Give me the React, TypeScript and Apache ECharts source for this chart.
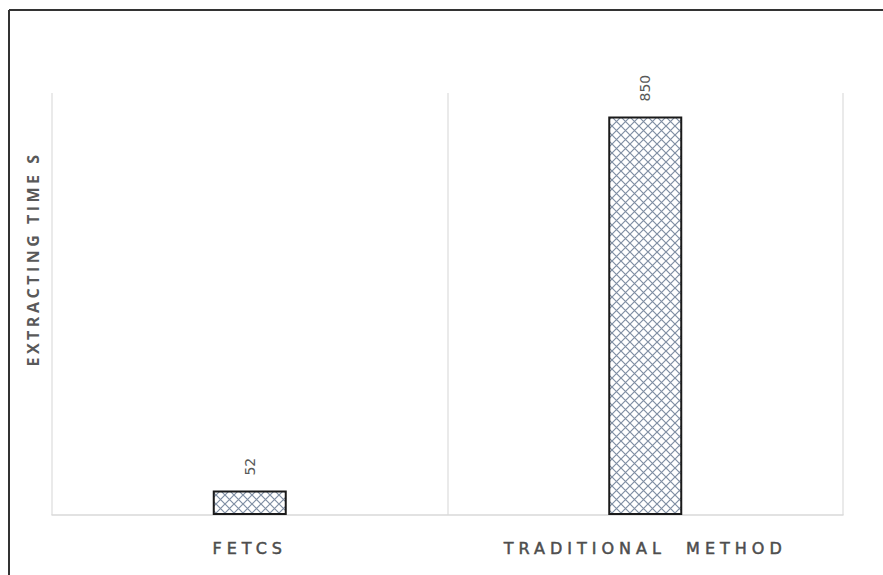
import React, { useEffect, useRef } from "react";
import * as echarts from "echarts";

const categories = ["FETCS", "TRADITIONAL  METHOD"];
const values = [52, 850];
const yAxisName = "EXTRACTING TIME S";

function makePattern(): string {
  const c = document.createElement("canvas");
  const s = 9;
  c.width = s;
  c.height = s;
  const ctx = c.getContext("2d")!;
  ctx.fillStyle = "#ffffff";
  ctx.fillRect(0, 0, s, s);
  ctx.strokeStyle = "#7f8ea3";
  ctx.lineWidth = 1.2;
  ctx.beginPath();
  ctx.moveTo(-1, -1);
  ctx.lineTo(s + 1, s + 1);
  ctx.moveTo(s + 1, -1);
  ctx.lineTo(-1, s + 1);
  ctx.stroke();
  return c.toDataURL();
}

function spaceText(root: HTMLElement) {
  const texts = root.querySelectorAll("text");
  texts.forEach((t) => {
    const s = (t.textContent || "").trim();
    if (categories.map((c) => c.trim()).includes(s)) {
      t.setAttribute("letter-spacing", "5");
    } else if (s === yAxisName) {
      t.setAttribute("letter-spacing", "3.5");
    }
  });
}

export default function App() {
  const ref = useRef<HTMLDivElement>(null);
  useEffect(() => {
    if (!ref.current) return;
    const chart = echarts.init(ref.current, undefined, { renderer: "svg" });
    const pattern = makePattern();
    chart.setOption({
      animation: false,
      backgroundColor: "#ffffff",
      grid: { left: 52, right: 40, top: 93, bottom: 60 },
      graphic: [
        { type: "line", shape: { x1: 9, y1: 10, x2: 883, y2: 10 }, style: { stroke: "#333333", lineWidth: 2 } },
        { type: "line", shape: { x1: 9, y1: 10, x2: 9, y2: 575 }, style: { stroke: "#333333", lineWidth: 2 } },
        {
          type: "text",
          x: 33,
          y: 259,
          rotation: Math.PI / 2,
          style: {
            text: yAxisName,
            fill: "#595959",
            font: "bold 16px 'Open Sans'",
            align: "center",
            verticalAlign: "middle",
          },
        },
      ],
      xAxis: {
        type: "category",
        data: categories,
        axisLine: { show: true, lineStyle: { color: "#d9d9d9", width: 1.5 } },
        axisTick: { show: false },
        splitLine: { show: true, lineStyle: { color: "#e3e3e3", width: 1.5 } },
        axisLabel: {
          margin: 25,
          color: "#4d4d4d",
          fontFamily: "DejaVu Sans",
          fontSize: 16,
          textBorderColor: "#4d4d4d",
          textBorderWidth: 0.5,
        },
      },
      yAxis: {
        type: "value",
        min: 0,
        max: 900,
        axisLine: { show: false },
        axisTick: { show: false },
        axisLabel: { show: false },
        splitLine: { show: false },
      },
      series: [
        {
          type: "bar",
          data: values,
          barWidth: 74,
          itemStyle: {
            color: { image: pattern, repeat: "repeat" },
            borderColor: "#1a1a1a",
            borderWidth: 2,
          },
          label: {
            show: true,
            position: "top",
            rotate: 90,
            align: "left",
            verticalAlign: "middle",
            distance: 15,
            color: "#595959",
            fontFamily: "DejaVu Sans",
            fontSize: 14,
          },
        },
      ],
    });
    spaceText(ref.current);
    return () => chart.dispose();
  }, []);
  return (
    <div
      ref={ref}
      style={{ position: "fixed", left: 0, top: 0, width: 883, height: 575 }}
    />
  );
}
